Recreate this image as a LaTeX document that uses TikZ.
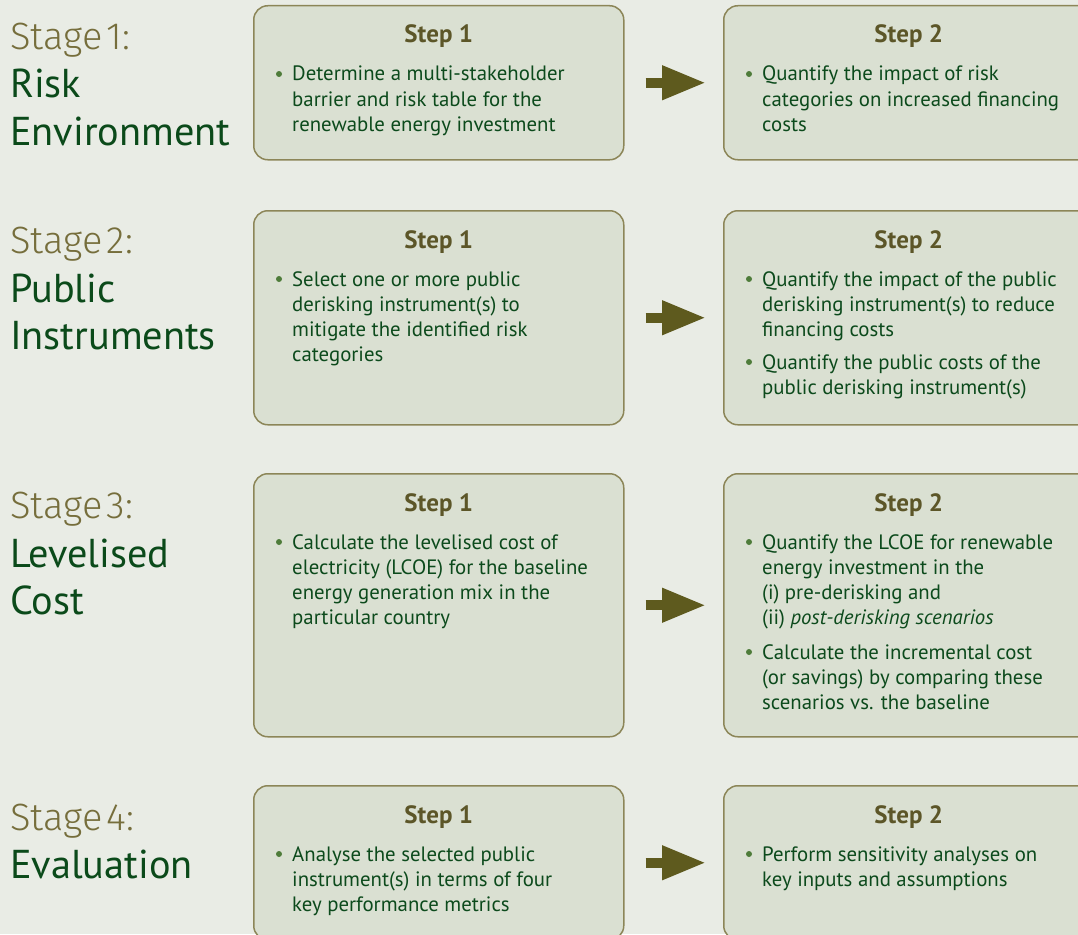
\documentclass[tikz,border=0pt]{standalone}
\usepackage{fontspec}
\setmainfont{PT Sans}
\newfontfamily\stagelight{Fira Sans Light}
\usetikzlibrary{arrows.meta,calc}
\definecolor{bgc}{HTML}{E9ECE5}
\definecolor{boxfill}{HTML}{DAE0D2}
\definecolor{boxline}{HTML}{8C8658}
\definecolor{arrc}{HTML}{5E5A1E}
\definecolor{headc}{HTML}{5C5628}
\definecolor{bodyc}{HTML}{0C4A1C}
\definecolor{stagec}{HTML}{766E3C}
\definecolor{namec}{HTML}{0B4A1A}
\definecolor{dotc}{HTML}{4E7C3A}
\tikzset{
  stepbox/.style={draw=boxline, fill=boxfill, line width=1.5pt, rounded corners=14pt, minimum width=370pt, anchor=north west, inner sep=0pt},
  head/.style={font=\fontsize{25}{28}\selectfont\bfseries, text=headc, inner sep=0pt, anchor=base},
  body/.style={font=\fontsize{20.8}{25}\selectfont, text=bodyc, inner sep=0pt, anchor=base west},
  bdot/.style={circle, fill=dotc, inner sep=0pt, minimum size=6pt},
  stagelbl/.style={font=\fontsize{38}{46}\stagelight, text=stagec, inner sep=0pt, anchor=base west},
  stagename/.style={font=\fontsize{40.3}{46}\selectfont, text=namec, inner sep=0pt, anchor=base west},
  blockarrow/.style={draw=arrc, line width=10pt, -{Triangle[length=44pt,width=32pt]}, shorten <=21pt, shorten >=17pt}
}
\newcommand\bul[4]{%
  \node[bdot] (#1d#3) at ($(#1.north west)+(26,{#2-7})$) {};
  \foreach \t [count=\i from 0] in {#4}
    \node[body] (#1l#3\i) at ($(#1.north west)+(39,{#2+25*\i})$) {\t};
}
\begin{document}
\begin{tikzpicture}[x=1pt,y=-1pt]
\fill[bgc] (0,0) rectangle (1078,934);
\useasboundingbox (0,0) rectangle (1078,934);
\clip (0,0) rectangle (1078,934);

% Stage labels
\node[stagelbl] (s1) at (10,49) {Stage\kern0.12em1:};
\node[stagename] (s1a) at (10,97) {Risk};
\node[stagename] (s1b) at (10,145) {Environment};
\node[stagelbl] (s2) at (10,253) {Stage\kern0.12em2:};
\node[stagename] (s2a) at (10,302) {Public};
\node[stagename] (s2b) at (10,349) {Instruments};
\node[stagelbl] (s3) at (10,518) {Stage\kern0.12em3:};
\node[stagename] (s3a) at (10,567) {Levelised};
\node[stagename] (s3b) at (10,614) {Cost};
\node[stagelbl] (s4) at (10,830) {Stage\kern0.12em4:};
\node[stagename] (s4a) at (10,878) {Evaluation};

% Boxes
\node[stepbox, minimum height=154pt] (L1) at (253,5) {};
\node[stepbox, minimum height=154pt] (R1) at (723,5) {};
\node[stepbox, minimum height=214pt] (L2) at (253,210) {};
\node[stepbox, minimum height=214pt] (R2) at (723,210) {};
\node[stepbox, minimum height=263pt] (L3) at (253,473) {};
\node[stepbox, minimum height=263pt] (R3) at (723,473) {};
\node[stepbox, minimum height=154pt] (L4) at (253,785) {};
\node[stepbox, minimum height=154pt] (R4) at (723,785) {};

% Headers
\foreach \b/\s in {L1/1,R1/2,L2/1,R2/2,L3/1,R3/2,L4/1,R4/2}
  \node[head] (\b h) at ($(\b.north)+(0,38)$) {Step \s};

% Bullets
\bul{L1}{76}{1}{Determine a multi-stakeholder,barrier and risk table for the,renewable energy investment}
\bul{R1}{76}{1}{Quantify the impact of risk,categories on increased financing,costs}
\bul{L2}{76}{1}{Select one or more public,derisking instrument(s) to,mitigate the identified risk,categories}
\bul{R2}{76}{1}{Quantify the impact of the public,derisking instrument(s) to reduce,financing costs}
\bul{R2}{159}{2}{Quantify the public costs of the,public derisking instrument(s)}
\bul{L3}{76}{1}{Calculate the levelised cost of,electricity (LCOE) for the baseline,energy generation mix in the,particular country}
\bul{R3}{76}{1}{Quantify the LCOE for renewable,energy investment in the,{(i) pre-derisking and},{(ii) \textit{post-derisking scenarios}}}
\bul{R3}{186}{2}{Calculate the incremental cost,{(or savings) by comparing these},scenarios vs. the baseline}
\bul{L4}{76}{1}{Analyse the selected public,instrument(s) in terms of four,key performance metrics}
\bul{R4}{76}{1}{Perform sensitivity analyses on,key inputs and assumptions}

% Arrows
\draw[blockarrow] (L1) -- (R1);
\draw[blockarrow] (L2) -- (R2);
\draw[blockarrow] (L3) -- (R3);
\draw[blockarrow] (L4) -- (R4);
\end{tikzpicture}
\end{document}
